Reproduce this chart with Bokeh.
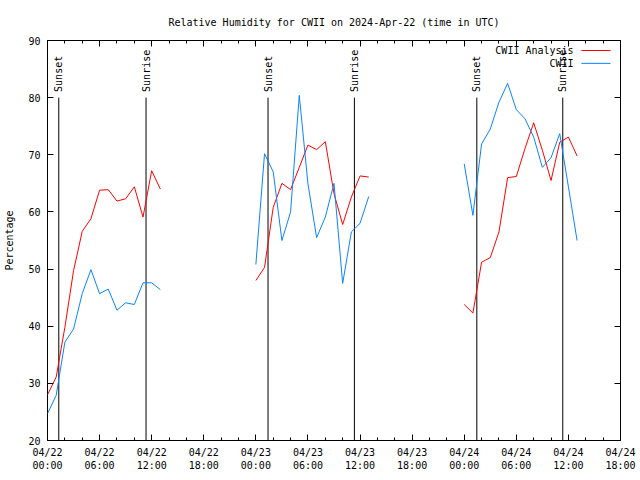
import math
from bokeh.plotting import figure
from bokeh.models import Range1d, LinearAxis, FixedTicker, Label, Arrow, Title
from bokeh.core.properties import value
from bokeh.embed import file_html
from bokeh.resources import INLINE

# ---- data (hours since 04/22 00:00 UTC) ----
hours_day1 = list(range(0, 14))
hours_day2 = list(range(24, 38))
hours_day3 = list(range(48, 62))

analysis_day1 = [28.0, 31.1, 39.8, 49.7, 56.6, 58.8, 63.8, 63.9, 61.9, 62.3, 64.4, 59.1, 67.2, 64.0]
analysis_day2 = [48.0, 50.3, 60.8, 65.0, 63.9, 67.8, 71.7, 70.9, 72.3, 63.2, 57.8, 62.6, 66.3, 66.1]
analysis_day3 = [43.8, 42.3, 51.2, 52.0, 56.5, 66.0, 66.2, 71.1, 75.6, 70.8, 65.5, 72.2, 73.1, 69.8]

obs_day1 = [24.7, 27.9, 37.2, 39.5, 45.7, 49.9, 45.7, 46.5, 42.8, 44.1, 43.8, 47.6, 47.6, 46.4]
obs_day2 = [50.8, 70.2, 67.0, 55.0, 60.0, 80.4, 64.9, 55.5, 59.1, 65.0, 47.5, 56.5, 58.0, 62.7]
obs_day3 = [68.4, 59.4, 71.9, 74.5, 79.2, 82.5, 77.9, 76.3, 73.1, 67.8, 69.5, 73.7, 64.4, 55.0]

sun_hours = [1.3, 11.35, 25.4, 35.35, 49.45, 59.35]
sun_labels = ["Sunset", "Sunrise", "Sunset", "Sunrise", "Sunset", "Sunrise"]
sun_line_top = 80

tick_hours = [0, 6, 12, 18, 24, 30, 36, 42, 48, 54, 60, 66]
tick_labels = ["04/22\n00:00", "04/22\n06:00", "04/22\n12:00", "04/22\n18:00",
               "04/23\n00:00", "04/23\n06:00", "04/23\n12:00", "04/23\n18:00",
               "04/24\n00:00", "04/24\n06:00", "04/24\n12:00", "04/24\n18:00"]
y_ticks = [20, 30, 40, 50, 60, 70, 80, 90]

series_names = ["CWII Analysis", "CWII"]
series_colors = ["#ff0000", "#0a84ff"]

FONT = "DejaVu Sans Mono"
FS = "10px"

def join(hs_list, vs_list):
    xs, ys = [], []
    for hs, vs in zip(hs_list, vs_list):
        if xs:
            xs.append(float("nan"))
            ys.append(float("nan"))
        xs.extend(hs)
        ys.extend(vs)
    return xs, ys

p = figure(width=640, height=480, output_backend="svg", toolbar_location=None,
           x_range=Range1d(0, 66), y_range=Range1d(20, 90),
           min_border_left=47, min_border_right=20, min_border_top=40, min_border_bottom=40,
           x_axis_type=None, y_axis_type=None)
p.grid.visible = False
p.outline_line_color = "black"
p.outline_line_width = 1
p.background_fill_color = "white"
p.border_fill_color = "white"

minor_x = [h for h in range(0, 67, 2)]
xtick = FixedTicker(ticks=tick_hours, minor_ticks=minor_x)
ytick = FixedTicker(ticks=y_ticks)

xb = LinearAxis(ticker=xtick, major_label_overrides={h: l for h, l in zip(tick_hours, tick_labels)})
xt = LinearAxis(ticker=xtick, major_label_overrides={h: "" for h in tick_hours}, major_label_standoff=0)
yl = LinearAxis(ticker=ytick, axis_label="Percentage")
yr = LinearAxis(ticker=ytick, major_label_overrides={t: "" for t in y_ticks}, major_label_standoff=0)
for ax in (xb, xt, yl, yr):
    ax.major_tick_in = 6
    ax.major_tick_out = 0
    ax.minor_tick_in = 3
    ax.minor_tick_out = 0
    ax.axis_line_color = None
    ax.major_tick_line_color = "black"
    ax.minor_tick_line_color = "black"
    ax.major_label_text_font = FONT
    ax.major_label_text_font_size = FS
    ax.major_label_text_color = "black"
    ax.axis_label_text_font = FONT
    ax.axis_label_text_font_size = FS
    ax.axis_label_text_font_style = "normal"
    ax.axis_label_text_color = "black"
xb.major_label_standoff = 6
yl.major_label_standoff = 7
yl.axis_label_standoff = 10
yl.minor_tick_line_color = None
yr.minor_tick_line_color = None
p.add_layout(xb, "below")
p.add_layout(xt, "above")
p.add_layout(yl, "left")
p.add_layout(yr, "right")

# sunrise / sunset lines
p.segment(x0=sun_hours, y0=[20] * len(sun_hours), x1=sun_hours, y1=[sun_line_top] * len(sun_hours),
          line_color="black", line_width=1)
p.text(x=sun_hours, y=[sun_line_top + 1.0] * len(sun_hours), text=sun_labels, angle=math.pi / 2,
       text_align="left", text_baseline="middle", text_font=value(FONT), text_font_size=FS,
       text_color="black")

xa, ya = join([hours_day1, hours_day2, hours_day3], [analysis_day1, analysis_day2, analysis_day3])
xo, yo = join([hours_day1, hours_day2, hours_day3], [obs_day1, obs_day2, obs_day3])
p.line(xa, ya, line_color=series_colors[0], line_width=1)
p.line(xo, yo, line_color=series_colors[1], line_width=1)

# legend (text left of sample line, gnuplot style)
leg_rows = [88.25, 86.0]
for name, col, yy in zip(series_names, series_colors, leg_rows):
    p.add_layout(Label(x=60.6, y=yy, text=name, text_align="right", text_baseline="middle",
                       text_font=FONT, text_font_size=FS, text_color="black"))
    p.add_layout(Arrow(end=None, x_start=61.5, y_start=yy, x_end=64.85, y_end=yy,
                       line_color=col, line_width=1))

p.add_layout(Title(text="Relative Humidity for CWII on 2024-Apr-22 (time in UTC)", align="center",
                   text_font=FONT, text_font_size=FS, text_font_style="normal",
                   text_color="black", standoff=25), "above")

open("out.html", "w").write(file_html(p, INLINE))
